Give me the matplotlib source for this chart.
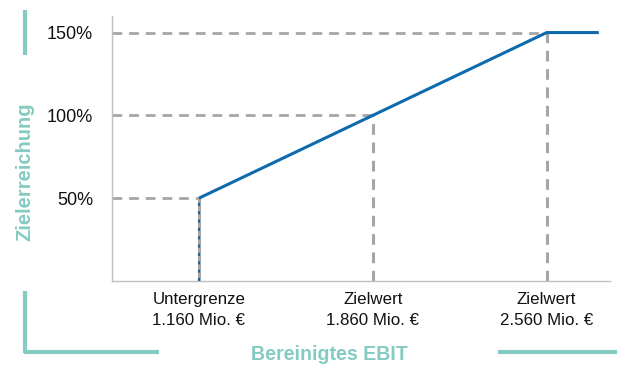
import matplotlib
matplotlib.use("Agg")
import matplotlib.pyplot as plt
from matplotlib.lines import Line2D

plt.rcParams['font.family'] = ['Liberation Sans', 'DejaVu Sans']

# Data
ebit_points = [1160, 1160, 1860, 2560, 2770]
achievement = [0, 50, 100, 150, 150]
ref_x = [1160, 1860, 2560]
ref_y = [50, 100, 150]
x_labels = ["Untergrenze\n1.160 Mio. €", "Zielwert\n1.860 Mio. €", "Zielwert\n2.560 Mio. €"]
y_ticks = [50, 100, 150]
y_ticklabels = ["50%", "100%", "150%"]

TEAL = "#84cbc1"
BLUE = "#0d6aad"
GRAY = "#a6a6a6"

fig = plt.figure(figsize=(6.17, 3.66), dpi=100)
ax = fig.add_axes([112/617, 1-281/366, (610-112)/617, (281-16)/366])
ax.set_xlim(810, 2815)
ax.set_ylim(0, 160)

# reference dashed lines
for xv, yv in zip(ref_x, ref_y):
    ax.plot([810, xv], [yv, yv], color=GRAY, lw=2, ls=(0, (3.5, 2.5)), zorder=2)
    ax.plot([xv, xv], [0, yv], color=GRAY, lw=2.2, ls=(0, (3.5, 2.5)) if xv != 1160 else '-', zorder=2)

# main line
ax.plot(ebit_points[1:], achievement[1:], color=BLUE, lw=2.2, zorder=3, solid_capstyle='butt')
ax.plot(ebit_points[:2], achievement[:2], color=BLUE, lw=1.5, ls=(0, (1.5, 2.5)), zorder=4)

for s in ['top', 'right']:
    ax.spines[s].set_visible(False)
for s in ['left', 'bottom']:
    ax.spines[s].set_color("#bfbfbf")
    ax.spines[s].set_linewidth(1.0)

ax.set_yticks(y_ticks)
ax.set_yticklabels(y_ticklabels, fontsize=13, color="#111111")
ax.tick_params(axis='y', length=0, pad=13.7)
ax.set_xticks(ref_x)
ax.set_xticklabels(x_labels, fontsize=12.2, color="#111111", linespacing=1.45)
ax.tick_params(axis='x', length=0, pad=8)

# Decorations
def fl(x0, y0, x1, y1):
    fig.add_artist(Line2D([x0/617, x1/617], [1-y0/366, 1-y1/366], color=TEAL, lw=3,
                          solid_capstyle='butt', transform=fig.transFigure))

fl(25, 10, 25, 55)
fl(25, 291, 25, 353)
fl(24, 352, 159, 352)
fl(498, 352, 617, 352)

fig.text(25/617, 1-172/366, "Zielerreichung", rotation=90, color=TEAL, fontsize=14.5,
         fontweight='bold', ha='center', va='center')
fig.text(329/617, 1-354/366, "Bereinigtes EBIT", color=TEAL, fontsize=14.1,
         fontweight='bold', ha='center', va='center')

fig.savefig("out.png", dpi=100)
